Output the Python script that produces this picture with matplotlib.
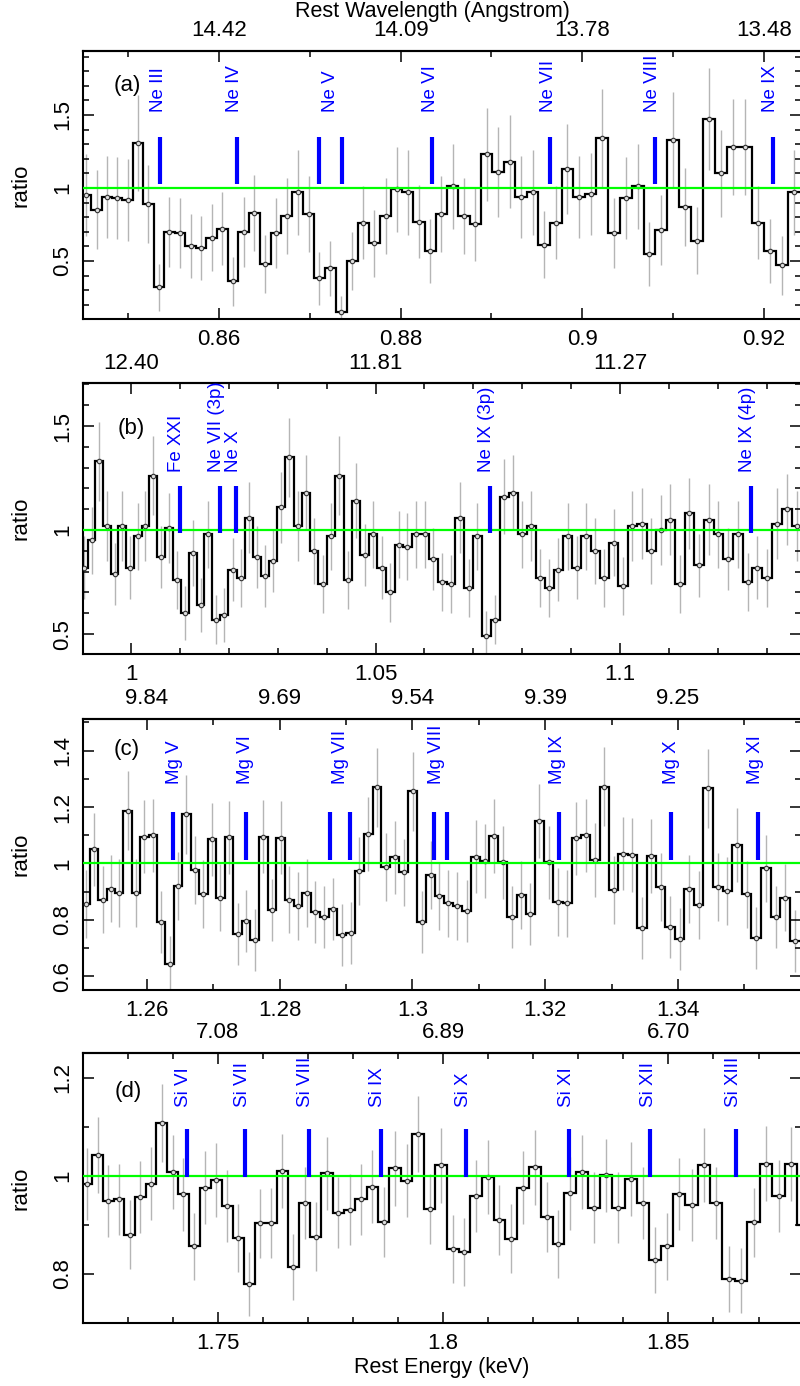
import numpy as np
import matplotlib.pyplot as plt
from matplotlib.ticker import MultipleLocator, FuncFormatter

plt.rcParams['font.family'] = ['Liberation Sans', 'DejaVu Sans']

HC = 12.398  # keV * Angstrom

# ---- panel (a): Ne region, bins uniform in wavelength ----
a_lam0 = 14.6657   # centre of first bin (Angstrom)
a_dlam = 0.01966
a_ratio = [0.95, 0.85, 0.94, 0.93, 0.92, 1.31, 0.89, 0.32, 0.70, 0.69,
           0.60, 0.59, 0.66, 0.72, 0.36, 0.70, 0.83, 0.48, 0.69, 0.81,
           0.97, 0.82, 0.38, 0.45, 0.15, 0.50, 0.76, 0.62, 0.81, 0.99,
           0.97, 0.77, 0.57, 0.82, 1.01, 0.81, 0.75, 1.23, 1.11, 1.18,
           0.94, 0.97, 0.61, 0.76, 1.13, 0.94, 0.96, 1.34, 0.69, 0.93,
           1.01, 0.55, 0.71, 1.33, 0.87, 0.64, 1.47, 1.10, 1.28, 1.28,
           0.76, 0.57, 0.47, 0.97]
a_err = [0.28, 0.27, 0.28, 0.28, 0.28, 0.33, 0.27, 0.16, 0.24, 0.24,
         0.22, 0.22, 0.23, 0.25, 0.17, 0.24, 0.26, 0.20, 0.24, 0.26,
         0.29, 0.26, 0.18, 0.19, 0.11, 0.20, 0.25, 0.23, 0.26, 0.29,
         0.29, 0.25, 0.22, 0.26, 0.29, 0.26, 0.25, 0.32, 0.31, 0.32,
         0.28, 0.29, 0.23, 0.25, 0.31, 0.28, 0.28, 0.34, 0.24, 0.28,
         0.29, 0.22, 0.24, 0.33, 0.27, 0.23, 0.35, 0.30, 0.33, 0.33,
         0.25, 0.22, 0.20, 0.29]
a_lines = [0.8535, 0.86195, 0.87102, 0.87352, 0.8835, 0.8964, 0.90797, 0.92097]
a_names = ["Ne III", "Ne IV", "Ne V", "Ne VI", "Ne VII", "Ne VIII", "Ne IX"]
a_name_pos = [0.85328, 0.86176, 0.87223, 0.88325, 0.89625, 0.90775, 0.92072]

# ---- panel (b) ----
b_lam0 = 12.5182
b_dlam = 0.01959
b_ratio = [0.82, 0.95, 1.33, 1.02, 0.79, 1.02, 0.82, 0.97, 1.02, 1.26,
           0.87, 1.01, 0.76, 0.60, 0.89, 0.64, 0.98, 0.57, 0.59, 0.81,
           0.77, 1.06, 0.87, 0.78, 0.85, 1.11, 1.35, 1.02, 1.18, 0.90,
           0.74, 0.97, 1.26, 0.76, 1.14, 0.88, 0.98, 0.82, 0.70, 0.93,
           0.92, 0.98, 0.98, 0.86, 0.75, 0.74, 1.06, 0.72, 0.97, 0.49,
           0.57, 1.16, 1.18, 0.98, 1.02, 0.77, 0.72, 0.81, 0.97, 0.82,
           0.97, 0.90, 0.77, 0.94, 0.73, 1.02, 1.03, 0.90, 1.00, 1.05,
           0.74, 1.08, 0.83, 1.05, 0.98, 0.86, 0.98, 0.75, 0.82, 0.77,
           1.03, 1.10, 1.02]
b_err = [0.15, 0.16, 0.19, 0.17, 0.15, 0.17, 0.15, 0.16, 0.17, 0.19,
         0.15, 0.17, 0.14, 0.13, 0.16, 0.13, 0.16, 0.12, 0.13, 0.15,
         0.14, 0.17, 0.15, 0.15, 0.15, 0.17, 0.19, 0.17, 0.18, 0.16,
         0.14, 0.16, 0.19, 0.14, 0.18, 0.15, 0.16, 0.15, 0.14, 0.16,
         0.16, 0.16, 0.16, 0.15, 0.14, 0.14, 0.17, 0.14, 0.16, 0.12,
         0.12, 0.18, 0.18, 0.16, 0.17, 0.14, 0.14, 0.15, 0.16, 0.15,
         0.16, 0.16, 0.14, 0.16, 0.14, 0.17, 0.17, 0.16, 0.17, 0.17,
         0.14, 0.17, 0.15, 0.17, 0.16, 0.15, 0.16, 0.14, 0.15, 0.14,
         0.17, 0.17, 0.17]
b_lines = [1.01003, 1.01812, 1.02154, 1.07338, 1.12685]
b_names = ["Fe XXI", "Ne VII (3p)", "Ne X", "Ne IX (3p)", "Ne IX (4p)"]
b_name_pos = [1.00934, 1.01741, 1.02095, 1.0727, 1.12607]

# ---- panel (c): Mg region ----
c_lam0 = 9.9118
c_dlam = 0.00987
c_ratio = [0.855, 1.05, 0.872, 0.911, 0.894, 1.187, 0.896, 1.095, 1.10, 0.791,
           0.642, 0.92, 1.174, 0.976, 0.891, 1.086, 0.879, 1.092, 0.751, 0.796,
           0.728, 1.095, 0.835, 1.091, 0.872, 0.85, 0.894, 0.826, 0.809, 0.84,
           0.746, 0.754, 0.974, 1.104, 1.27, 0.988, 1.021, 0.968, 1.256, 0.793,
           0.959, 0.885, 0.858, 0.849, 0.832, 1.024, 1.009, 1.097, 1.004, 0.809,
           0.888, 0.82, 1.15, 1.004, 0.862, 0.858, 1.089, 1.10, 1.012, 1.272,
           0.905, 1.035, 1.03, 0.77, 1.026, 0.917, 0.773, 0.732, 0.909, 0.852,
           1.266, 0.917, 0.903, 1.065, 0.89, 0.734, 0.982, 0.809, 0.879, 0.725]
c_err = [0.12, 0.13, 0.12, 0.12, 0.12, 0.14, 0.12, 0.13, 0.13, 0.11,
         0.10, 0.12, 0.14, 0.12, 0.12, 0.13, 0.12, 0.13, 0.11, 0.11,
         0.11, 0.13, 0.11, 0.13, 0.12, 0.12, 0.12, 0.11, 0.11, 0.11,
         0.11, 0.11, 0.12, 0.13, 0.14, 0.12, 0.13, 0.12, 0.14, 0.11,
         0.12, 0.12, 0.12, 0.12, 0.11, 0.13, 0.13, 0.13, 0.13, 0.11,
         0.12, 0.11, 0.13, 0.13, 0.12, 0.12, 0.13, 0.13, 0.13, 0.14,
         0.12, 0.13, 0.13, 0.11, 0.13, 0.12, 0.11, 0.11, 0.12, 0.12,
         0.14, 0.12, 0.12, 0.13, 0.12, 0.11, 0.12, 0.11, 0.12, 0.11]
c_lines = [1.264, 1.27496, 1.28754, 1.29056, 1.30322, 1.30525, 1.32207, 1.33892, 1.35204]
c_names = ["Mg V", "Mg VI", "Mg VII", "Mg VIII", "Mg IX", "Mg X", "Mg XI"]
c_name_pos = [1.26415, 1.27481, 1.28919, 1.30367, 1.32181, 1.33896, 1.35163]

# ---- panel (d): Si region ----
d_lam0 = 7.2040
d_dlam = 0.00983
d_ratio = [0.983, 1.042, 0.948, 0.952, 0.880, 0.957, 0.984, 1.108, 1.008, 0.962,
           0.856, 0.976, 0.991, 0.938, 0.873, 0.779, 0.903, 0.904, 1.010, 0.814,
           0.944, 0.876, 1.005, 0.925, 0.931, 0.952, 0.978, 0.906, 1.015, 0.990,
           1.085, 0.932, 1.021, 0.850, 0.845, 0.959, 0.998, 0.910, 0.872, 0.976,
           1.017, 0.916, 0.861, 0.964, 1.008, 0.935, 1.001, 0.935, 0.993, 0.944,
           0.828, 0.856, 0.963, 0.940, 1.022, 0.945, 0.789, 0.786, 0.905, 1.025,
           0.959, 1.024, 0.899]
d_err = [0.074, 0.077, 0.073, 0.073, 0.070, 0.073, 0.074, 0.079, 0.075, 0.074,
         0.069, 0.074, 0.075, 0.073, 0.070, 0.066, 0.071, 0.071, 0.075, 0.068,
         0.073, 0.070, 0.075, 0.072, 0.072, 0.073, 0.074, 0.071, 0.076, 0.075,
         0.078, 0.072, 0.076, 0.069, 0.069, 0.073, 0.075, 0.072, 0.070, 0.074,
         0.076, 0.072, 0.070, 0.074, 0.075, 0.073, 0.075, 0.073, 0.075, 0.073,
         0.068, 0.069, 0.074, 0.073, 0.076, 0.073, 0.067, 0.066, 0.071, 0.076,
         0.073, 0.076, 0.071]
d_lines = [1.7432, 1.75609, 1.77016, 1.78616, 1.80509, 1.82804, 1.84598, 1.86509]
d_names = ["Si VI", "Si VII", "Si VIII", "Si IX", "Si X", "Si XI", "Si XII", "Si XIII"]
d_name_pos = [1.74244, 1.75556, 1.76949, 1.78542, 1.80444, 1.82742, 1.84556, 1.86444]

tags = ["(a)", "(b)", "(c)", "(d)"]

# layout / axis settings per panel
bottoms = [0.7696, 0.5281, 0.2857, 0.04524]
heights = [0.1938, 0.1953, 0.1955, 0.1952]
xlims = [(0.84505, 0.92413), (0.99023, 1.13707), (1.25042, 1.35857), (1.72016, 1.87949)]
ylims = [(0.10, 1.94), (0.404, 1.705), (0.551, 1.512), (0.699, 1.251)]
xmaj = [0.02, 0.05, 0.02, 0.05]
ymaj = [0.5, 0.5, 0.2, 0.2]
line_y = [(1.03, 1.35), (0.984, 1.21), (1.013, 1.183), (0.998, 1.095)]
name_y = [1.52, 1.28, 1.28, 1.141]
tag_xy = [(0.062, 0.869), (0.067, 0.835), (0.060, 0.886), (0.063, 0.856)]

panels = [
    (a_lam0, a_dlam, a_ratio, a_err, a_lines, a_names, a_name_pos),
    (b_lam0, b_dlam, b_ratio, b_err, b_lines, b_names, b_name_pos),
    (c_lam0, c_dlam, c_ratio, c_err, c_lines, c_names, c_name_pos),
    (d_lam0, d_dlam, d_ratio, d_err, d_lines, d_names, d_name_pos),
]

fig = plt.figure(figsize=(8, 13.86), dpi=100)

for i, (lam0, dlam, ratio, err, lines, names, name_pos) in enumerate(panels):
    ax = fig.add_axes([0.1041, bottoms[i], 0.8975, heights[i]])
    n = len(ratio)
    lam_c = lam0 - dlam * np.arange(n)
    lam_edges = lam0 + dlam / 2 - dlam * np.arange(n + 1)
    e_c = HC / lam_c
    e_edges = HC / lam_edges

    ax.errorbar(e_c, ratio, yerr=err, fmt='none', ecolor='#b5b5b5',
                elinewidth=1.0, zorder=1)
    ax.stairs(ratio, e_edges, baseline=None, color='k', lw=1.6, zorder=2)
    ax.plot(e_c, ratio, 'o', ms=3.2, mfc='#dddddd', mec='#333333', mew=0.8, zorder=3)
    ax.axhline(1.0, color='#00ff00', lw=1.6, zorder=4)
    ax.vlines(lines, line_y[i][0], line_y[i][1], color='#0000ff', lw=3, zorder=5)
    for name, pos in zip(names, name_pos):
        ax.text(pos, name_y[i], name, rotation=90, ha='center', va='bottom',
                color='#0000ff', fontsize=13.5, zorder=6)
    ax.text(tag_xy[i][0], tag_xy[i][1], tags[i], transform=ax.transAxes,
            ha='center', va='center', fontsize=16)

    ax.set_xlim(xlims[i])
    ax.set_ylim(ylims[i])
    ax.xaxis.set_major_locator(MultipleLocator(xmaj[i]))
    ax.xaxis.set_minor_locator(MultipleLocator(0.01))
    ax.yaxis.set_major_locator(MultipleLocator(ymaj[i]))
    ax.yaxis.set_minor_locator(MultipleLocator(0.1))
    ax.xaxis.set_major_formatter(FuncFormatter(lambda v, p: f"{v:g}"))
    ax.yaxis.set_major_formatter(FuncFormatter(lambda v, p: f"{v:g}"))
    ax.tick_params(which='both', direction='in', right=True, top=False,
                   labelsize=16, width=1.1, pad=7)
    ax.tick_params(which='major', length=8)
    ax.tick_params(which='minor', length=4.5)
    ax.tick_params(axis='y', labelrotation=90)
    plt.setp(ax.get_yticklabels(), va='center')
    for s in ax.spines.values():
        s.set_linewidth(1.5)

    sec = ax.secondary_xaxis('top')
    sec.xaxis.set_major_locator(MultipleLocator(xmaj[i]))
    sec.xaxis.set_minor_locator(MultipleLocator(0.01))
    sec.xaxis.set_major_formatter(FuncFormatter(lambda e, p: f"{HC / e:.2f}"))
    sec.tick_params(which='both', direction='in', labelsize=16, width=1.1, pad=7)
    sec.tick_params(which='major', length=8)
    sec.tick_params(which='minor', length=4.5)
    sec.spines['top'].set_linewidth(1.5)

    fig.text(21 / 800, bottoms[i] + heights[i] / 2, 'ratio', rotation=90,
             ha='center', va='center', fontsize=16)

fig.text(432 / 800, 1 - 12 / 1386, 'Rest Wavelength (Angstrom)', ha='center',
         va='center', fontsize=15.5)
fig.text(442 / 800, 1 - 1367 / 1386, 'Rest Energy (keV)', ha='center',
         va='center', fontsize=15.5)

fig.savefig('out.png', dpi=100)
